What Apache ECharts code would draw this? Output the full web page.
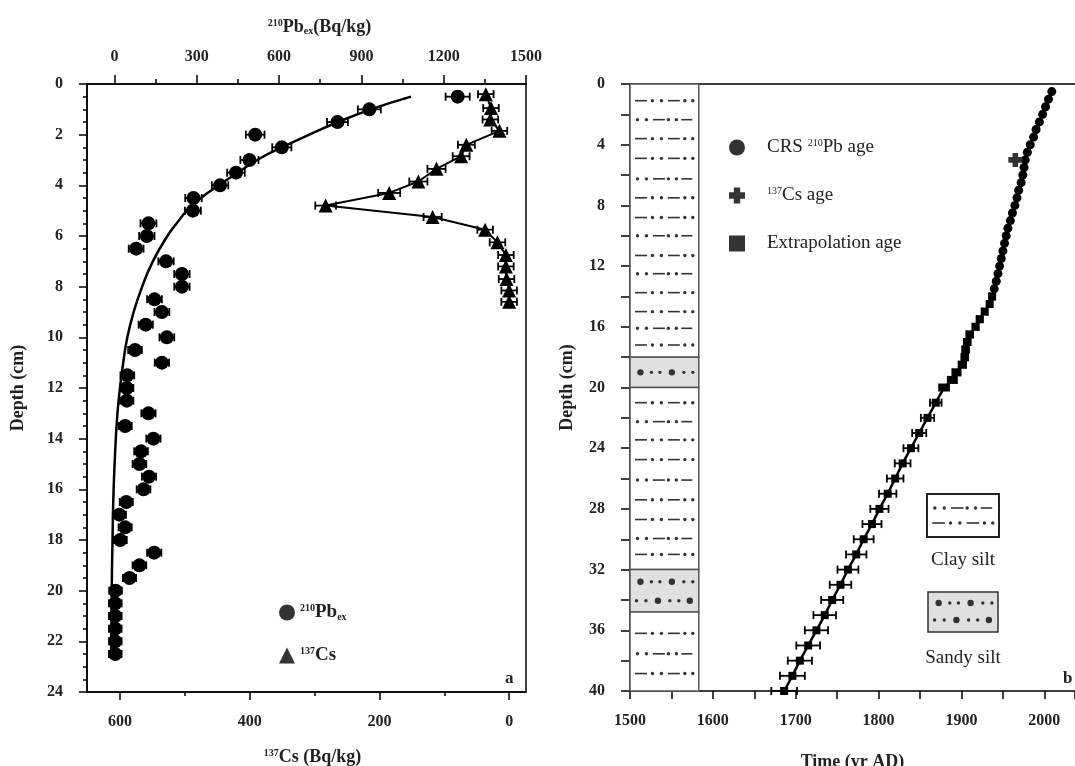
<!DOCTYPE html>
<html lang="en">
<head>
<meta charset="UTF-8">
<title>210Pb / 137Cs profiles and ages</title>
<script src="https://cdn.jsdelivr.net/npm/echarts@6/dist/echarts.min.js"></script>
<style>html,body{margin:0;padding:0;background:#fff}</style>
</head>
<body>
<div id="chart" style="width:1075px;height:766px"></div>
<script>
var FONT = '"Liberation Serif", "DejaVu Serif", serif';

// ---- panel a : 210Pbex profile (top axis) ----
var pbDepth = [0.5,1,1.5,2,2.5,3,3.5,4,4.5,5,5.5,6,6.5,7,7.5,8,8.5,9,9.5,10,10.5,11,11.5,12,12.5,13,13.5,14,14.5,15,15.5,16,16.5,17,17.5,18,18.5,19,19.5,20,20.5,21,21.5,22,22.5];
var pbValue = [1251,929,813,513,610,492,443,385,288,286,124,118,79,188,246,246,146,173,114,191,75,173,47,45,45,124,39,142,97,91,126,106,43,18,39,21,145,91,55,4,3,3,3,3,3];
var pbError = [44,42,38,34,35,33,32,30,30,29,29,28,27,28,28,28,27,27,26,27,25,26,25,24,24,26,24,26,25,25,26,25,24,24,24,24,26,25,24,23,23,23,23,23,23];

// fitted curve
var fitDepth = [0.5,1,1.5,2,2.5,3,3.5,4,4.5,5,5.5,6,7,8,9,10,11,12,13,14,16,18,20,22.5];
var fitValue = [1081,935,815,710,610,520,450,380,315,264,227,193,140,101,70,47,32,20,11,5,-3,-7,-10,-12];

// ---- panel a : 137Cs profile (bottom axis, reversed) ----
var csDepth = [0.4,0.95,1.4,1.85,2.4,2.85,3.35,3.85,4.3,4.8,5.25,5.75,6.25,6.75,7.2,7.7,8.15,8.6];
var csValue = [36,28,29,15,66,74,112,140,185,283,118,37,18,5,5,4,0,0];
var csError = [12,12,12,12,13,13,14,14,17,16,14,12,12,12,12,12,12,12];

// ---- panel b : ages ----
var crsDepth = [0.5,1,1.5,2,2.5,3,3.5,4,4.5,5,5.5,6,6.5,7,7.5,8,8.5,9,9.5,10,10.5,11,11.5,12,12.5,13,13.5];
var crsYear = [2009,2005,2001.5,1998,1994,1990,1987,1983,1979.5,1977,1975.5,1974,1972,1969,1967,1964.5,1961.5,1959,1956,1954,1952,1950,1948,1946,1944,1942,1939.5];
var extDepth = [14,14.5,15,15.5,16,16.5,17,17.5,18,18.5,19,19.5,20,21,22,23,24,25,26,27,28,29,30,31,32,33,34,35,36,37,38,39,40];
var extYear = [1937,1934,1928,1922,1917,1910,1907,1905,1904,1901,1894,1889,1879,1869,1859,1849,1839,1829,1820,1811,1801,1792,1782,1773,1763,1754,1744,1735,1725,1715,1705,1696,1686];
var extError = [3,3,3,3.5,3.5,4,4,4,4,4.5,5,5.5,6,7,8,8.5,9,9.5,10,10.5,11,11.5,12,12.3,12.6,13,13.3,13.6,14,14.3,14.6,15,15.5];
var csAgeDepth = [5];
var csAgeYear = [1965];

// ---- lithology column ----
var layerTop = [0,18,20,32,34.8];
var layerBottom = [18,20,32,34.8,40];
var layerKind = ['clay','sand','clay','sand','clay'];
var rowDepth = [1.1,2.35,3.6,4.9,6.25,7.5,8.8,10,11.3,12.5,13.75,15,16.1,17.2,19,21,22.25,23.45,24.75,26.1,27.4,28.7,29.95,31,32.8,34.05,36.2,37.55,38.85];
var rowPattern = ['A','B','A','A','B','A','A','B','A','B','A','A','B','A','S1','A','B','A','A','B','A','A','B','A','S1','S2','A','B','A'];

// tick values
var pbTicks = [0,300,600,900,1200,1500];
var pbMinorTicks = [150,450,750,1050,1350];
var csTicks = [0,200,400,600];
var csMinorTicks = [100,300,500];

var COL_X0 = 1500, COL_X1 = 1583;

function points(xs, ys, es) {
    var res = [];
    for (var i = 0; i < xs.length; i++) {
        res.push(es ? [xs[i], ys[i], es[i]] : [xs[i], ys[i]]);
    }
    return res;
}

// dash / dot layouts, positions in px for a 69px wide column
var patternDefs = {
    A:  [['d',5,17],['o',22.5],['o',31.5],['d',38,50],['o',55],['o',63]],
    B:  [['o',7.5],['o',16.5],['d',23,35],['o',38.5],['o',46.5],['d',51.5,62.5]],
    S1: [['O',10.5],['o',21.5],['o',30],['O',42],['o',54],['o',63]],
    S2: [['o',6.5],['o',16],['O',28],['o',40],['o',49],['O',60]]
};
function patternShapes(x0, y, w, key) {
    var k = w / 69;
    return patternDefs[key].map(function (p) {
        if (p[0] === 'd') {
            return {type: 'line', shape: {x1: x0 + p[1] * k, y1: y, x2: x0 + p[2] * k, y2: y},
                    style: {stroke: '#333', lineWidth: 1.6}};
        }
        return {type: 'circle', shape: {cx: x0 + p[1] * k, cy: y, r: p[0] === 'O' ? 3.2 : 1.7},
                style: {fill: '#333'}};
    });
}

function errorBar(params, api) {
    var x = api.value(0), y = api.value(1), e = api.value(2);
    var a = api.coord([x - e, y]);
    var b = api.coord([x + e, y]);
    var h = 4;
    var st = {stroke: '#000', lineWidth: 1.8};
    return {type: 'group', children: [
        {type: 'line', shape: {x1: a[0], y1: a[1], x2: b[0], y2: b[1]}, style: st},
        {type: 'line', shape: {x1: a[0], y1: a[1] - h, x2: a[0], y2: a[1] + h}, style: st},
        {type: 'line', shape: {x1: b[0], y1: b[1] - h, x2: b[0], y2: b[1] + h}, style: st}
    ]};
}

function layerItem(params, api) {
    var p0 = api.coord([COL_X0, api.value(0)]);
    var p1 = api.coord([COL_X1, api.value(1)]);
    var sand = layerKind[params.dataIndex] === 'sand';
    return {type: 'rect',
            shape: {x: p0[0], y: p0[1], width: p1[0] - p0[0], height: p1[1] - p0[1]},
            style: {fill: sand ? '#e0e0e0' : '#fff', stroke: '#555', lineWidth: 1.5}};
}

function rowItem(params, api) {
    var p0 = api.coord([COL_X0, api.value(0)]);
    var p1 = api.coord([COL_X1, api.value(0)]);
    return {type: 'group', children: patternShapes(p0[0], p0[1], p1[0] - p0[0], rowPattern[params.dataIndex])};
}

function plain(v) { return String(v); }

var richStyle = {
    sup: {fontFamily: FONT, fontSize: 10, fontWeight: 'bold', verticalAlign: 'top', color: '#222'},
    sub: {fontFamily: FONT, fontSize: 10, fontWeight: 'bold', verticalAlign: 'bottom', color: '#222'}
};
var nameStyle = {fontFamily: FONT, fontSize: 18, fontWeight: 'bold', color: '#222', rich: richStyle};
var lineBlack = {color: '#000', width: 1.5};

var myChart = echarts.init(document.getElementById('chart'));

var option = {
    backgroundColor: '#fff',
    animation: false,
    grid: [
        {left: 87, top: 84, width: 439, height: 608, show: true, borderColor: '#000', borderWidth: 1.5, outerBoundsMode: 'none'},
        {left: 630, top: 84, right: 0, height: 607, outerBoundsMode: 'none'}
    ],
    xAxis: [
        { // 137Cs, bottom, reversed
            gridIndex: 0, type: 'value', position: 'bottom', inverse: true, min: -26, max: 651,
            axisLine: {show: true, onZero: false, lineStyle: lineBlack},
            axisTick: {show: true, customValues: csTicks, length: 8, lineStyle: lineBlack},
            axisLabel: {customValues: csTicks, margin: 22, formatter: plain, fontFamily: FONT, fontSize: 16, fontWeight: 'bold', color: '#222'},
            splitLine: {show: false},
            name: '{sup|137}Cs (Bq/kg)', nameLocation: 'middle', nameGap: 56,
            nameTextStyle: Object.assign({padding: [0, 0, 0, 12]}, nameStyle)
        },
        { // minor ticks of 137Cs axis
            gridIndex: 0, type: 'value', position: 'bottom', inverse: true, min: -26, max: 651,
            axisLine: {show: false, onZero: false},
            axisTick: {show: true, customValues: csMinorTicks, length: 4, lineStyle: lineBlack},
            minorTick: {show: false},
            axisLabel: {show: false}, splitLine: {show: false}
        },
        { // 210Pbex, top
            gridIndex: 0, type: 'value', position: 'top', min: -100, max: 1500,
            axisLine: {show: true, onZero: false, lineStyle: lineBlack},
            axisTick: {show: true, customValues: pbTicks, length: 9, lineStyle: lineBlack},
            axisLabel: {customValues: pbTicks, margin: 19, formatter: plain, fontFamily: FONT, fontSize: 16, fontWeight: 'bold', color: '#222'},
            splitLine: {show: false},
            name: '{sup|210}Pb{sub|ex}(Bq/kg)', nameLocation: 'middle', nameGap: 48,
            nameTextStyle: Object.assign({padding: [0, 0, 0, 26]}, nameStyle)
        },
        { // minor ticks of 210Pbex axis
            gridIndex: 0, type: 'value', position: 'top', min: -100, max: 1500,
            axisLine: {show: false, onZero: false},
            axisTick: {show: true, customValues: pbMinorTicks, length: 5, lineStyle: lineBlack},
            minorTick: {show: false},
            axisLabel: {show: false}, splitLine: {show: false}
        },
        { // time axis
            gridIndex: 1, type: 'value', position: 'bottom', min: 1500, max: 2037, interval: 100,
            axisLine: {show: true, onZero: false, lineStyle: lineBlack},
            axisTick: {show: true, length: 8, lineStyle: lineBlack},
            minorTick: {show: true, splitNumber: 2, length: 8, lineStyle: lineBlack},
            axisLabel: {margin: 22, formatter: plain, fontFamily: FONT, fontSize: 16, fontWeight: 'bold', color: '#222'},
            splitLine: {show: false},
            name: 'Time (yr AD)', nameLocation: 'middle', nameGap: 62, nameTextStyle: nameStyle
        },
        { // top frame line of panel b
            gridIndex: 1, type: 'value', position: 'top', min: 1500, max: 2037, interval: 100,
            axisLine: {show: true, onZero: false, lineStyle: lineBlack},
            axisTick: {show: false}, minorTick: {show: false},
            axisLabel: {show: false}, splitLine: {show: false}
        }
    ],
    yAxis: [
        {
            gridIndex: 0, type: 'value', inverse: true, min: 0, max: 24, interval: 2,
            axisLine: {show: true, onZero: false, lineStyle: lineBlack},
            axisTick: {show: true, length: 8, lineStyle: lineBlack},
            minorTick: {show: true, splitNumber: 4, length: 4, lineStyle: lineBlack},
            axisLabel: {margin: 24, fontFamily: FONT, fontSize: 16, fontWeight: 'bold', color: '#222'},
            splitLine: {show: false},
            name: 'Depth (cm)', nameLocation: 'middle', nameRotate: 90, nameGap: 60, nameTextStyle: nameStyle
        },
        {
            gridIndex: 1, type: 'value', inverse: true, min: 0, max: 40, interval: 2,
            axisLine: {show: true, onZero: false, lineStyle: lineBlack},
            axisTick: {show: true, length: 9, lineStyle: lineBlack},
            axisLabel: {
                margin: 25, fontFamily: FONT, fontSize: 16, fontWeight: 'bold', color: '#222',
                formatter: function (v) { return v % 4 === 0 ? String(v) : ''; }
            },
            splitLine: {show: false},
            name: 'Depth (cm)', nameLocation: 'middle', nameRotate: 90, nameGap: 54, nameTextStyle: nameStyle
        }
    ],
    legend: [
        {
            left: 274, top: 598, orient: 'vertical', itemGap: 24, itemWidth: 16, itemHeight: 16,
            selectedMode: false,
            data: [
                {name: '210Pbex', icon: 'circle', itemStyle: {color: '#333'}},
                {name: '137Cs', icon: 'triangle', itemStyle: {color: '#333'}}
            ],
            formatter: function (n) {
                return n === '210Pbex' ? '{sup|210}Pb{sub|ex}' : '{sup|137}Cs';
            },
            textStyle: {fontFamily: FONT, fontSize: 19, fontWeight: 'bold', color: '#222', rich: richStyle}
        },
        {
            left: 724, top: 133, orient: 'vertical', itemGap: 29, itemWidth: 16, itemHeight: 16,
            selectedMode: false,
            data: [
                {name: 'CRS 210Pb age', icon: 'circle', itemStyle: {color: '#333'}},
                {name: '137Cs age', icon: 'path://M3,0H7V3H10V7H7V10H3V7H0V3H3Z', itemStyle: {color: '#333'}},
                {name: 'Extrapolation age', icon: 'rect', itemStyle: {color: '#333'}}
            ],
            formatter: function (n) {
                if (n === 'CRS 210Pb age') return 'CRS {sup|210}Pb age';
                if (n === '137Cs age') return '{sup|137}Cs age';
                return n;
            },
            textStyle: {
                fontFamily: FONT, fontSize: 19, color: '#222', padding: [0, 0, 0, 17],
                rich: {
                    sup: {fontFamily: FONT, fontSize: 10, verticalAlign: 'top', color: '#222'}
                }
            }
        }
    ],
    graphic: [
        {type: 'text', left: 505, top: 670, style: {text: 'a', fontFamily: FONT, fontSize: 17, fontWeight: 'bold', fill: '#222'}},
        {type: 'text', left: 1063, top: 670, style: {text: 'b', fontFamily: FONT, fontSize: 17, fontWeight: 'bold', fill: '#222'}},
        {type: 'rect', shape: {x: 927, y: 494, width: 72, height: 43}, style: {fill: '#fff', stroke: '#222', lineWidth: 2}},
        {type: 'group', children: patternShapes(927, 508, 72, 'B').concat(patternShapes(927, 523, 72, 'A'))},
        {type: 'text', x: 963, y: 560, style: {text: 'Clay silt', fontFamily: FONT, fontSize: 19, fill: '#222', align: 'center', verticalAlign: 'middle', textAlign: 'center', textVerticalAlign: 'middle'}},
        {type: 'rect', shape: {x: 928, y: 592, width: 70, height: 40}, style: {fill: '#e0e0e0', stroke: '#333', lineWidth: 1.5}},
        {type: 'group', children: patternShapes(928, 603, 70, 'S1').concat(patternShapes(928, 620, 70, 'S2'))},
        {type: 'text', x: 963, y: 658, style: {text: 'Sandy silt', fontFamily: FONT, fontSize: 19, fill: '#222', align: 'center', verticalAlign: 'middle', textAlign: 'center', textVerticalAlign: 'middle'}}
    ],
    series: [
        // panel a
        {
            type: 'custom', name: 'pbErr', xAxisIndex: 2, yAxisIndex: 0,
            renderItem: errorBar, encode: {x: 0, y: 1},
            data: points(pbValue, pbDepth, pbError), z: 2
        },
        {
            type: 'scatter', name: '210Pbex', xAxisIndex: 2, yAxisIndex: 0,
            symbol: 'circle', symbolSize: 14, itemStyle: {color: '#000', opacity: 1},
            data: points(pbValue, pbDepth), z: 3
        },
        {
            type: 'line', name: 'fit', xAxisIndex: 2, yAxisIndex: 0,
            smooth: true, showSymbol: false, symbol: 'none',
            lineStyle: {color: '#000', width: 2.5},
            data: points(fitValue, fitDepth), z: 4
        },
        {
            type: 'custom', name: 'csErr', xAxisIndex: 0, yAxisIndex: 0,
            renderItem: errorBar, encode: {x: 0, y: 1},
            data: points(csValue, csDepth, csError), z: 2
        },
        {
            type: 'line', name: '137Cs', xAxisIndex: 0, yAxisIndex: 0,
            symbol: 'triangle', symbolSize: 14, showAllSymbol: true,
            itemStyle: {color: '#000', opacity: 1}, lineStyle: {color: '#000', width: 2},
            data: points(csValue, csDepth), z: 3
        },
        // panel b
        {
            type: 'custom', name: 'layers', xAxisIndex: 4, yAxisIndex: 1,
            renderItem: layerItem, encode: {y: [0, 1]},
            data: points(layerTop, layerBottom), z: 1
        },
        {
            type: 'custom', name: 'rows', xAxisIndex: 4, yAxisIndex: 1,
            renderItem: rowItem, encode: {y: 0},
            data: rowDepth.map(function (d) { return [d]; }), z: 2
        },
        {
            type: 'line', name: 'ageLine', xAxisIndex: 4, yAxisIndex: 1,
            showSymbol: false, symbol: 'none', lineStyle: {color: '#000', width: 2.5},
            data: points(crsYear.concat(extYear), crsDepth.concat(extDepth)), z: 3
        },
        {
            type: 'custom', name: 'extErr', xAxisIndex: 4, yAxisIndex: 1,
            renderItem: errorBar, encode: {x: 0, y: 1},
            data: points(extYear, extDepth, extError), z: 3
        },
        {
            type: 'scatter', name: 'CRS 210Pb age', xAxisIndex: 4, yAxisIndex: 1,
            symbol: 'circle', symbolSize: 9, itemStyle: {color: '#000', opacity: 1},
            data: points(crsYear, crsDepth), z: 4
        },
        {
            type: 'scatter', name: 'Extrapolation age', xAxisIndex: 4, yAxisIndex: 1,
            symbol: 'rect', symbolSize: 8, itemStyle: {color: '#000', opacity: 1},
            data: points(extYear, extDepth), z: 4
        },
        {
            type: 'scatter', name: '137Cs age', xAxisIndex: 4, yAxisIndex: 1,
            symbol: 'path://M3,0H7V3H10V7H7V10H3V7H0V3H3Z', symbolSize: 14, itemStyle: {color: '#333', opacity: 1},
            data: points(csAgeYear, csAgeDepth), z: 5
        }
    ]
};

myChart.setOption(option);
</script>
</body>
</html>
